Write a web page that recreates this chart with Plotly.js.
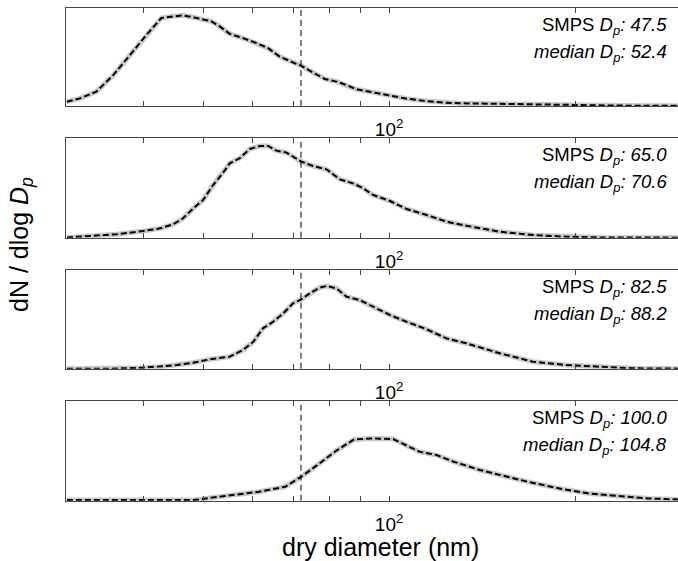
<!DOCTYPE html>
<html>
<head>
<meta charset="utf-8">
<script src="https://cdn.plot.ly/plotly-3.0.1.min.js"></script>
<style>
html,body{margin:0;padding:0;overflow:hidden;background:#fff;}
#chart{width:700px;height:561px;}
</style>
</head>
<body>
<div id="chart"></div>
<script>
// ---- data (dry diameter in nm, normalized dN/dlogDp) ----
var p1x = [30.1, 31.6, 33.6, 35.8, 38.1, 40.5, 42.8, 44.7, 46.4, 48.8, 51.6, 53.2, 55.2, 58.0, 61.0, 63.7, 66.5, 69.9, 72.1, 75.3, 78.7, 82.2, 85.3, 88.5, 94.2, 100.3, 106.7, 115.0, 122.3, 130.1, 151, 189, 236, 300];
var p1y = [0.044, 0.078, 0.147, 0.317, 0.522, 0.727, 0.898, 0.915, 0.925, 0.898, 0.863, 0.812, 0.737, 0.693, 0.642, 0.590, 0.505, 0.444, 0.410, 0.341, 0.276, 0.249, 0.215, 0.171, 0.140, 0.106, 0.075, 0.050, 0.035, 0.028, 0.022, 0.010, 0.004, 0.001];

var p2x = [30.1, 33.2, 36.2, 40.0, 42.6, 44.7, 46.4, 48.2, 50.0, 51.9, 53.8, 55.2, 57.3, 59.5, 61.8, 63.7, 65.7, 68.2, 69.9, 72.1, 75.3, 79.2, 83.2, 87.4, 90.8, 94.2, 100.3, 106.7, 115.0, 123.8, 133.4, 151, 170.8, 193.6, 219, 300];
var p2y = [0.003, 0.017, 0.034, 0.067, 0.094, 0.134, 0.195, 0.295, 0.379, 0.530, 0.648, 0.748, 0.799, 0.893, 0.923, 0.923, 0.876, 0.856, 0.815, 0.765, 0.721, 0.688, 0.587, 0.547, 0.497, 0.430, 0.369, 0.289, 0.228, 0.161, 0.120, 0.060, 0.027, 0.010, 0.003, 0.0];

var p3x = [30.1, 35.3, 40.0, 42.6, 45.3, 48.2, 51.3, 55.2, 58.0, 60.3, 62.5, 64.9, 67.4, 69.9, 72.1, 74.4, 77.2, 79.2, 82.2, 85.3, 89.6, 94.2, 100.3, 106.7, 115.0, 123.8, 133.4, 151, 170.8, 193.6, 219, 248, 300];
var p3y = [0, 0, 0.010, 0.020, 0.037, 0.061, 0.095, 0.122, 0.189, 0.274, 0.409, 0.476, 0.561, 0.662, 0.703, 0.764, 0.821, 0.838, 0.814, 0.730, 0.696, 0.628, 0.544, 0.476, 0.399, 0.307, 0.257, 0.156, 0.071, 0.037, 0.020, 0.004, 0];

var p4x = [30.1, 48.4, 54.2, 61.6, 67.9, 72.1, 77.2, 82.4, 87.8, 93.7, 101.5, 106.6, 111.9, 119.3, 127.2, 140.2, 154.3, 167.3, 190.3, 209.7, 234.6, 262.7, 300];
var p4y = [0.007, 0.007, 0.047, 0.090, 0.140, 0.241, 0.375, 0.508, 0.615, 0.625, 0.619, 0.559, 0.492, 0.458, 0.391, 0.308, 0.241, 0.191, 0.117, 0.074, 0.047, 0.023, 0.01];

var smpsDp   = ['47.5', '65.0', '82.5', '100.0'];
var medianDp = ['52.4', '70.6', '88.2', '104.8'];
var cutoffDp = 72;           // vertical dashed line (nm)
var tickVals = [40, 50, 60, 70, 80, 90, 100, 200, 300];
var tickText = ['', '', '', '', '', '', '10<sup>2</sup>', '', ''];

// ---- layout helpers ----
var W = 700, H = 561, ML = 66, MR = 16, MT = 8, MB = 60;
var plotW = W - ML - MR, plotH = H - MT - MB;
function fy(py) { return (H - MB - py) / plotH; }
function fx(px) { return (px - ML) / plotW; }
var panels = [[8, 106], [138.3, 237.7], [270, 368.7], [401, 500.7]];
var xs = [p1x, p2x, p3x, p4x], ys = [p1y, p2y, p3y, p4y];

var FONT = 'Liberation Sans, Arial, Helvetica, sans-serif';
var traces = [], shapes = [], annotations = [];
var layout = {
  width: W, height: H,
  margin: {l: ML, r: MR, t: MT, b: MB, pad: 0},
  paper_bgcolor: '#fff', plot_bgcolor: '#fff',
  showlegend: false,
  font: {family: FONT, color: '#000'}
};

for (var i = 0; i < 4; i++) {
  var n = i === 0 ? '' : String(i + 1);
  traces.push({x: xs[i], y: ys[i], xaxis: 'x' + n, yaxis: 'y' + n, mode: 'lines',
    line: {color: '#c9c9c9', width: 5}, hoverinfo: 'skip'});
  traces.push({x: xs[i], y: ys[i], xaxis: 'x' + n, yaxis: 'y' + n, mode: 'lines',
    line: {color: '#000', width: 2, dash: '6px,3px'}});
  layout['xaxis' + n] = {
    type: 'log', range: [Math.log10(30), Math.log10(300)], domain: [0, 1], anchor: 'y' + n,
    showline: true, linecolor: '#444', linewidth: 1, mirror: 'ticks',
    ticks: 'inside', ticklen: 5, tickcolor: '#444', tickwidth: 1,
    tickmode: 'array', tickvals: tickVals, ticktext: tickText, ticklabelstandoff: 6,
    tickfont: {size: 19, family: FONT, color: '#000'},
    showgrid: false, zeroline: false, fixedrange: true
  };
  layout['yaxis' + n] = {
    range: [0, 1], domain: [fy(panels[i][1]), fy(panels[i][0])], anchor: 'x' + n,
    showline: true, linecolor: '#444', linewidth: 1, mirror: 'ticks',
    ticks: 'inside', ticklen: 4, tickcolor: '#444', tickmode: 'array', tickvals: [0],
    showticklabels: false, showgrid: false, zeroline: false, fixedrange: true
  };
  shapes.push({type: 'line', xref: 'x' + n, yref: 'y' + n + ' domain', x0: cutoffDp, x1: cutoffDp, y0: 0, y1: 1,
    line: {color: '#000', width: 1, dash: '6px,4px'}});
  var panelTop = panels[i][0];
  annotations.push({xref: 'paper', yref: 'paper', x: fx(669), y: fy(panelTop + 18), xanchor: 'right', yanchor: 'middle',
    showarrow: false, text: 'SMPS <i>D<sub>p</sub>: ' + smpsDp[i] + '</i>', font: {size: 18.5, family: FONT, color: '#000'}});
  annotations.push({xref: 'paper', yref: 'paper', x: fx(669), y: fy(panelTop + 45), xanchor: 'right', yanchor: 'middle',
    showarrow: false, text: '<i>median D<sub>p</sub>: ' + medianDp[i] + '</i>', font: {size: 18.5, family: FONT, color: '#000'}});
}

annotations.push({xref: 'paper', yref: 'paper', x: fx(21), y: fy(245), xanchor: 'center', yanchor: 'middle',
  textangle: -90, showarrow: false, text: 'dN / dlog <i>D<sub>p</sub></i>', font: {size: 25, family: FONT, color: '#000'}});
annotations.push({xref: 'paper', yref: 'paper', x: fx(380), y: fy(547), xanchor: 'center', yanchor: 'middle',
  showarrow: false, text: 'dry diameter (nm)', font: {size: 25, family: FONT, color: '#000'}});

layout.shapes = shapes;
layout.annotations = annotations;

Plotly.newPlot('chart', traces, layout, {displayModeBar: false, staticPlot: true});
</script>
</body>
</html>
